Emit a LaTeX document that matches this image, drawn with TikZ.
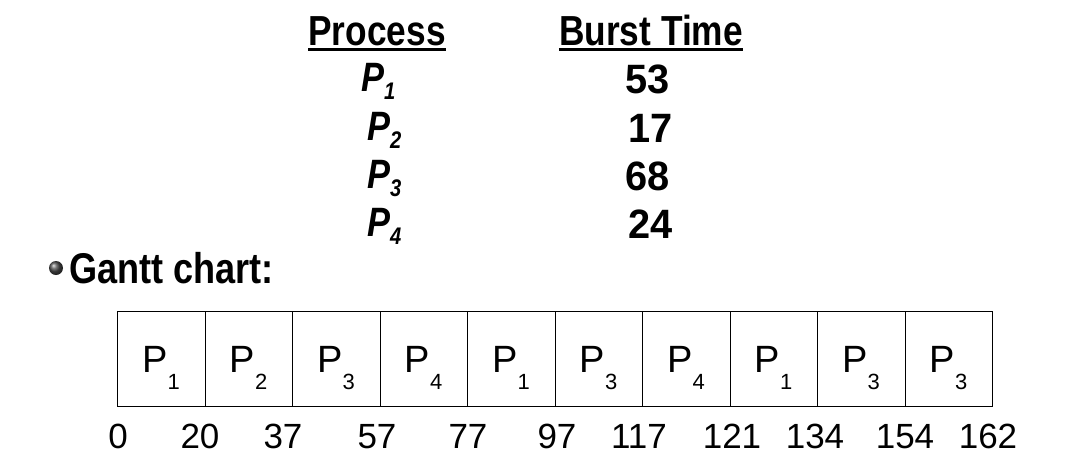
\documentclass[tikz,border=0pt]{standalone}
\usepackage{fontspec}
\setmainfont{Liberation Sans}
\newfontfamily\hdr{Liberation Sans}[FakeStretch=0.84]
\newfontfamily\hdrnum{Liberation Sans}[FakeStretch=0.97]
\usetikzlibrary{shadings}
\tikzset{
  hdrtxt/.style={inner sep=0pt, anchor=base, font=\hdr\bfseries\fontsize{42}{42}\selectfont},
  proctxt/.style={inner sep=0pt, anchor=base west, font=\hdr\bfseries\itshape\fontsize{41}{41}\selectfont},
  numtxt/.style={inner sep=0pt, anchor=base, font=\hdrnum\bfseries\fontsize{41}{41}\selectfont},
  cell/.style={draw=black, line width=1.2pt, minimum width=87.5pt, minimum height=95pt, inner sep=0pt, anchor=north west},
  celltxt/.style={inner sep=0pt, anchor=base, font=\fontsize{38}{38}\selectfont},
  ticktxt/.style={inner sep=0pt, anchor=base, font=\fontsize{35}{35}\selectfont},
}
\newcommand{\hsub}[1]{\raisebox{-8pt}{\fontsize{24}{24}\selectfont #1}}
\newcommand{\gsub}[1]{\raisebox{-17pt}{\fontsize{22}{22}\selectfont #1}}
\begin{document}
\begin{tikzpicture}[x=1pt,y=-1pt]
\useasboundingbox (0,0) rectangle (1072,459);
% header
\node[hdrtxt] (hp) at (377,45) {Process};
\node[hdrtxt] (hb) at (651,45) {Burst Time};
\draw[line width=2.8pt] (hp.west |- 0,49.5) -- (hp.east |- 0,49.5);
\draw[line width=2.8pt] (hb.west |- 0,49.5) -- (hb.east |- 0,49.5);
\node[proctxt] (p1) at (361,91) {P\hsub{1}};
\node[proctxt] (p2) at (367,140) {P\hsub{2}};
\node[proctxt] (p3) at (367,188) {P\hsub{3}};
\node[proctxt] (p4) at (367,236) {P\hsub{4}};
\node[numtxt] (b1) at (648,93) {53};
\node[numtxt] (b2) at (651,142) {17};
\node[numtxt] (b3) at (648,190) {68};
\node[numtxt] (b4) at (651,238) {24};
% bullet
\shade[ball color=gray!60!black] (56,268) circle (7pt);
\node[hdrtxt, anchor=base west, font=\hdr\bfseries\fontsize{43}{43}\selectfont] (gc) at (69,283) {Gantt chart:};
% gantt cells
\foreach \i/\p/\s in {0/P/1,1/P/2,2/P/3,3/P/4,4/P/1,5/P/3,6/P/4,7/P/1,8/P/3,9/P/3}{
  \node[cell] (c\i) at (117+87.5*\i,311) {};
  \node[celltxt] (l\i) at (161+87.5*\i,372) {\p\gsub{\s}};
}
% ticks
\foreach \t/\x in {0/118,20/200,37/283,57/377,77/468,97/557,117/639,121/732,134/815,154/905,162/988}{
  \node[ticktxt] (t\t) at (\x,448) {\t};
}
\end{tikzpicture}
\end{document}
